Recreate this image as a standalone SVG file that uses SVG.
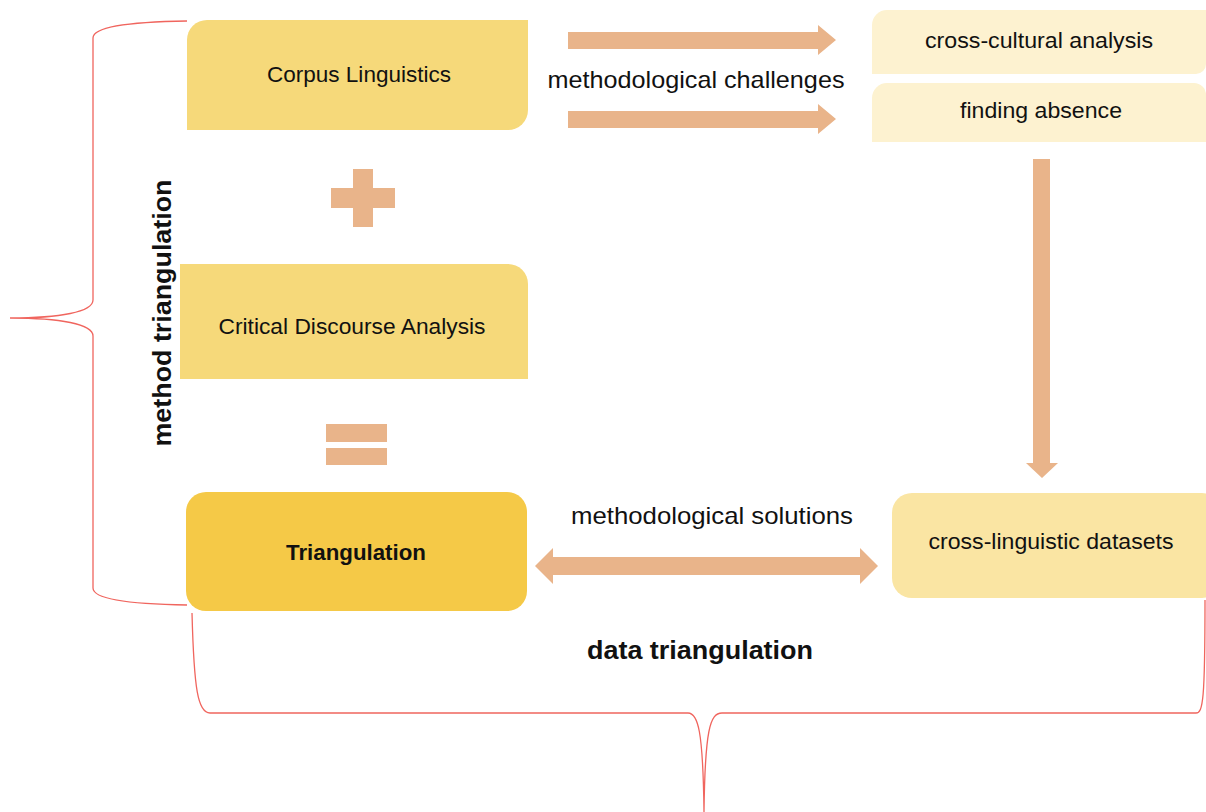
<svg xmlns="http://www.w3.org/2000/svg" width="1206" height="812" viewBox="0 0 1206 812">
<style>
text{font-family:"Liberation Sans",Arial,sans-serif;font-size:22.5px;fill:#111;text-anchor:middle}
.b{font-weight:bold}
.arrow{fill:#E9B48A}
.brace{fill:none;stroke:#F0655E;stroke-width:1.3}
</style>
<rect width="1206" height="812" fill="#fff"/>
<g id="braces">
<path class="brace" d="M187,21 C120,22 93,28 93,38 L93,300 C93,312 60,318 10,318 C60,318 93,324 93,336 L93,588 C93,598 120,604 187,605"/>
<path class="brace" d="M192,613 C194,690 198,713 210,713 L688,713 C698,713 703,730 704,812 C705,730 710,713 722,713 L1196,713 C1203,713 1205,700 1205,600"/>
</g>
<g id="node-corpus">
<path d="M207,20 H528 V110 A20,20 0 0 1 508,130 H187 V40 A20,20 0 0 1 207,20 Z" fill="#F6D97A"/>
<text x="359" y="82" textLength="184" lengthAdjust="spacingAndGlyphs">Corpus Linguistics</text>
</g>
<g id="node-cda">
<path d="M180,264 H508 A20,20 0 0 1 528,284 V379 H180 Z" fill="#F6D97A"/>
<text x="352" y="334" textLength="267" lengthAdjust="spacingAndGlyphs">Critical Discourse Analysis</text>
</g>
<g id="node-triangulation">
<rect x="186" y="492" width="341" height="119" rx="20" fill="#F5C947"/>
<text class="b" x="356" y="560" textLength="140" lengthAdjust="spacingAndGlyphs">Triangulation</text>
</g>
<g id="node-crosscultural">
<path d="M887,10 H1206 V64 A10,10 0 0 1 1196,74 H872 V25 A15,15 0 0 1 887,10 Z" fill="#FDF2D0"/>
<text x="1039" y="48" textLength="228" lengthAdjust="spacingAndGlyphs">cross-cultural analysis</text>
</g>
<g id="node-finding">
<path d="M887,83 H1194 A12,12 0 0 1 1206,95 V142 H872 V98 A15,15 0 0 1 887,83 Z" fill="#FDF2D0"/>
<text x="1041" y="118" textLength="162" lengthAdjust="spacingAndGlyphs">finding absence</text>
</g>
<g id="node-crosslinguistic">
<rect x="892" y="493" width="330" height="105" rx="20" fill="#FAE5A3"/>
<text x="1051" y="549" textLength="245" lengthAdjust="spacingAndGlyphs">cross-linguistic datasets</text>
</g>
<g id="operators">
<path class="arrow" d="M353,169 H373 V188 H395 V208 H373 V227 H353 V208 H331 V188 H353 Z"/>
<rect class="arrow" x="326" y="424" width="61" height="18"/>
<rect class="arrow" x="326" y="448" width="61" height="17"/>
</g>
<g id="connectors">
<path class="arrow" d="M568,32 H818 V25 L836,40 L818,55 V49 H568 Z"/>
<path class="arrow" d="M568,111 H818 V104 L836,119 L818,134 V128 H568 Z"/>
<path class="arrow" d="M1033,159 H1050 V463 H1058 L1042,478 L1026,463 H1033 Z"/>
<path class="arrow" d="M535,566 L553,548 V557 H860 V548 L878,566 L860,584 V575 H553 V584 Z"/>
</g>
<g id="labels">
<text x="696" y="88" style="font-size:24px" textLength="297" lengthAdjust="spacingAndGlyphs">methodological challenges</text>
<text x="712" y="524" style="font-size:24px" textLength="282" lengthAdjust="spacingAndGlyphs">methodological solutions</text>
<text class="b" x="700" y="659" style="font-size:25.5px" textLength="226" lengthAdjust="spacingAndGlyphs">data triangulation</text>
<text class="b" transform="translate(171,313) rotate(-90)" style="font-size:25.5px" textLength="267" lengthAdjust="spacingAndGlyphs">method triangulation</text>
</g>
</svg>
